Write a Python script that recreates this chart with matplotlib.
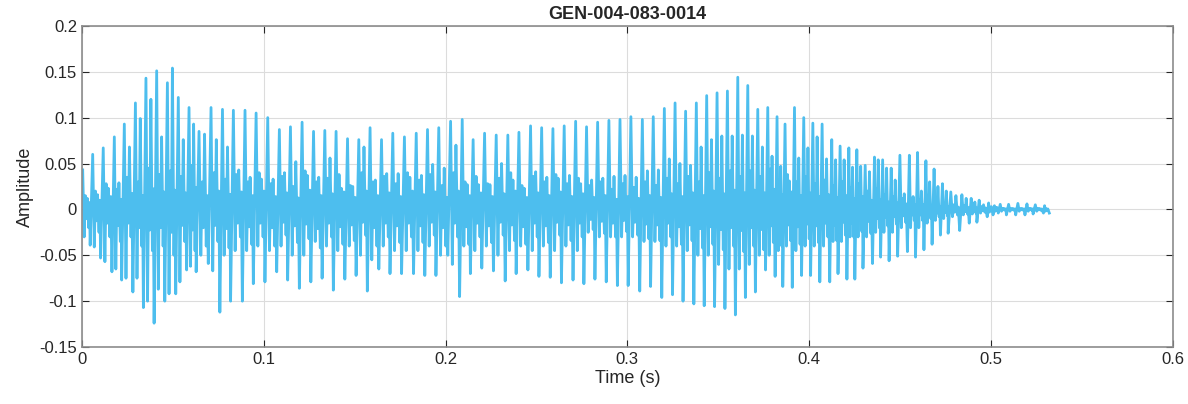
#!/usr/bin/env python3
"""
Plot the voice waveform of recording GEN-004-083-0014.
Values are per-cycle extrema read off the original figure.
"""

import matplotlib
matplotlib.use("Agg")
import matplotlib.pyplot as plt
import numpy as np

TITLE = "GEN-004-083-0014"
LINE_COLOR = "#4DBEEE"

# time (s) of the main positive peak of every glottal cycle
peak_t = [
    0.0004, 0.0059, 0.0117, 0.0178, 0.0233, 0.0294, 0.0352, 0.0411, 0.0470, 0.0530,
    0.0589, 0.0644, 0.0710, 0.0773, 0.0833, 0.0897,
    0.0958, 0.1022, 0.1086, 0.1147, 0.1211, 0.1274, 0.1336, 0.1398, 0.1461, 0.1523,
    0.1585, 0.1648, 0.1710, 0.1774,
    0.1839, 0.1901, 0.1963, 0.2028, 0.2092, 0.2152, 0.2215, 0.2279, 0.2343, 0.2404,
    0.2468, 0.2529, 0.2591, 0.2653, 0.2716,
    0.2776, 0.2837, 0.2899, 0.2960, 0.3020, 0.3083, 0.3143, 0.3204, 0.3263, 0.3321,
    0.3380, 0.3437, 0.3494, 0.3551, 0.3608,
    0.3663, 0.3718, 0.3773, 0.3824, 0.3868, 0.3920, 0.3971, 0.4021, 0.4072, 0.4125,
    0.4171, 0.4219, 0.4263, 0.4309, 0.4360, 0.4405, 0.4452, 0.4500, 0.4552,
    0.4597, 0.4643, 0.4688, 0.4734, 0.4780, 0.4841, 0.4892, 0.4936, 0.4988, 0.5020,
    0.5052, 0.5098, 0.5149, 0.5199, 0.5245, 0.5296,
]

# main positive peak of each cycle
peak_hi = [
    0.043, 0.060, 0.067, 0.079, 0.093, 0.116, 0.143, 0.151, 0.138, 0.122,
    0.111, 0.085, 0.111, 0.109, 0.108, 0.108,
    0.105, 0.100, 0.087, 0.090, 0.095, 0.085, 0.086, 0.085, 0.077, 0.076,
    0.089, 0.076, 0.083, 0.079,
    0.083, 0.087, 0.089, 0.096, 0.098, 0.076, 0.083, 0.081, 0.081, 0.084,
    0.091, 0.089, 0.088, 0.091, 0.096,
    0.090, 0.095, 0.097, 0.098, 0.101, 0.098, 0.101, 0.110, 0.116, 0.107,
    0.116, 0.124, 0.127, 0.129, 0.144,
    0.135, 0.109, 0.111, 0.101, 0.093, 0.111, 0.100, 0.094, 0.093, 0.076,
    0.069, 0.067, 0.065, 0.048, 0.057, 0.054, 0.045, 0.059, 0.059,
    0.062, 0.053, 0.044, 0.028, 0.019, 0.016, 0.012, 0.010, 0.007, 0.004,
    0.0055, 0.0055, 0.0065, 0.006, 0.005, 0.004,
]

# deep trough just before each main peak
trough_lo = [
    0.000, -0.039, -0.053, -0.068, -0.077, -0.090, -0.107, -0.124, -0.100, -0.092,
    -0.066, -0.068, -0.059, -0.112, -0.100, -0.100,
    -0.081, -0.079, -0.068, -0.077, -0.086, -0.079, -0.075, -0.088, -0.076, -0.072,
    -0.089, -0.065, -0.070, -0.070,
    -0.070, -0.072, -0.072, -0.050, -0.095, -0.070, -0.064, -0.067, -0.078, -0.070,
    -0.066, -0.073, -0.074, -0.080, -0.077,
    -0.081, -0.076, -0.079, -0.083, -0.083, -0.089, -0.084, -0.096, -0.093, -0.100,
    -0.103, -0.105, -0.106, -0.108, -0.115,
    -0.096, -0.090, -0.066, -0.073, -0.084, -0.085, -0.072, -0.072, -0.079, -0.079,
    -0.070, -0.076, -0.076, -0.064, -0.059, -0.052, -0.056, -0.051, -0.046,
    -0.052, -0.044, -0.038, -0.028, -0.026, -0.023, -0.015, -0.014, -0.008, -0.006,
    -0.004, -0.006, -0.006, -0.006, -0.005, -0.004,
]

# secondary dip and secondary peak inside each cycle
sec_lo = [
    -0.030, -0.041, -0.057, -0.065, -0.075, -0.075, -0.100, -0.087, -0.092, -0.079,
    -0.062, -0.050, -0.067, -0.050, -0.045, -0.045,
    -0.040, -0.045, -0.040, -0.050, -0.050, -0.035, -0.040, -0.045, -0.040, -0.050,
    -0.055, -0.040, -0.045, -0.045,
    -0.045, -0.040, -0.050, -0.060, -0.040, -0.045, -0.040, -0.050, -0.045, -0.040,
    -0.045, -0.040, -0.045, -0.040, -0.045,
    -0.025, -0.030, -0.030, -0.030, -0.030, -0.035, -0.035, -0.040, -0.040, -0.045,
    -0.050, -0.050, -0.060, -0.065, -0.065,
    -0.060, -0.050, -0.050, -0.045, -0.040, -0.045, -0.040, -0.040, -0.040, -0.035,
    -0.035, -0.030, -0.030, -0.030, -0.025, -0.025, -0.025, -0.020, -0.020,
    -0.020, -0.015, -0.012, -0.010, -0.008, -0.006, -0.005, -0.004, -0.003, -0.002,
    -0.002, -0.002, -0.002, -0.002, -0.002, -0.002,
]

sec_hi = [
    0.012, 0.016, 0.023, 0.029, 0.068, 0.099, 0.120, 0.079, 0.154, 0.076,
    0.093, 0.082, 0.076, 0.068, 0.043, 0.035,
    0.033, 0.033, 0.040, 0.052, 0.037, 0.035, 0.056, 0.023, 0.025, 0.068,
    0.032, 0.039, 0.039, 0.035,
    0.037, 0.049, 0.045, 0.070, 0.027, 0.027, 0.027, 0.050, 0.032, 0.023,
    0.041, 0.035, 0.034, 0.037, 0.028,
    0.032, 0.034, 0.036, 0.037, 0.035, 0.042, 0.043, 0.055, 0.050, 0.048,
    0.068, 0.076, 0.080, 0.080, 0.081,
    0.080, 0.068, 0.058, 0.047, 0.031, 0.056, 0.067, 0.079, 0.055, 0.054,
    0.054, 0.046, 0.047, 0.041, 0.054, 0.045, 0.032, 0.017, 0.014,
    0.020, 0.030, 0.025, 0.020, 0.015, 0.012, 0.008, 0.005, 0.003, 0.002,
    0.001, 0.001, 0.001, 0.001, 0.001, 0.000,
]

# extra high-frequency wiggle (up, down) inside each cycle
wig_hi = [
    0.015, 0.020, 0.028, 0.022, 0.035, 0.030, 0.045, 0.038, 0.042, 0.036,
    0.048, 0.030, 0.040, 0.033, 0.038, 0.030,
    0.040, 0.028, 0.036, 0.025, 0.042, 0.030, 0.034, 0.038, 0.026, 0.040,
    0.030, 0.036, 0.028, 0.040,
    0.032, 0.038, 0.026, 0.040, 0.030, 0.036, 0.028, 0.034, 0.040, 0.026,
    0.036, 0.030, 0.038, 0.028, 0.034,
    0.026, 0.030, 0.022, 0.028, 0.024, 0.030, 0.026, 0.034, 0.028, 0.036,
    0.030, 0.040, 0.034, 0.042, 0.036,
    0.042, 0.036, 0.044, 0.032, 0.038, 0.030, 0.036, 0.028, 0.032, 0.026,
    0.030, 0.024, 0.028, 0.020, 0.022, 0.016, 0.014, 0.012, 0.010,
    0.010, 0.008, 0.007, 0.006, 0.005, 0.004, 0.003, 0.003, 0.002, 0.002,
    0.001, 0.001, 0.001, 0.001, 0.001, 0.001,
]

wig_lo = [
    -0.020, -0.025, -0.030, -0.035, -0.030, -0.040, -0.045, -0.040, -0.050, -0.035,
    -0.045, -0.040, -0.035, -0.042, -0.030, -0.038,
    -0.030, -0.040, -0.028, -0.036, -0.032, -0.042, -0.030, -0.038, -0.034, -0.028,
    -0.040, -0.030, -0.036, -0.030,
    -0.036, -0.028, -0.040, -0.030, -0.038, -0.030, -0.036, -0.028, -0.034, -0.038,
    -0.030, -0.036, -0.028, -0.034, -0.030,
    -0.022, -0.026, -0.030, -0.024, -0.028, -0.032, -0.034, -0.030, -0.038, -0.034,
    -0.042, -0.038, -0.044, -0.040, -0.046,
    -0.040, -0.044, -0.036, -0.040, -0.034, -0.038, -0.032, -0.036, -0.030, -0.034,
    -0.028, -0.030, -0.024, -0.026, -0.020, -0.018, -0.016, -0.014, -0.012,
    -0.012, -0.010, -0.008, -0.007, -0.006, -0.005, -0.004, -0.003, -0.002, -0.002,
    -0.001, -0.001, -0.001, -0.001, -0.001, -0.001,
]

end_t, end_val = 0.5322, -0.004


def build_trace():
    """Chain the extrema of each cycle into one polyline."""
    t, y = [], []
    n = len(peak_t)
    for i in range(n):
        period = (peak_t[i + 1] if i + 1 < n else end_t) - peak_t[i]
        p = peak_t[i]
        steps = (
            (-0.24, trough_lo[i]), (0.0, peak_hi[i]),
            (0.15, sec_lo[i]), (0.26, wig_hi[i]),
            (0.36, 0.5 * wig_lo[i]), (0.46, sec_hi[i]),
            (0.60, wig_lo[i]), (0.68, 0.5 * wig_hi[i]),
        )
        for frac, v in steps:
            if p + frac * period >= 0:
                t.append(p + frac * period)
                y.append(v)
    t.append(end_t)
    y.append(end_val)
    return np.array(t), np.array(y)


def main():
    plt.rcParams["font.family"] = ["Liberation Sans", "DejaVu Sans"]
    plt.rcParams["axes.unicode_minus"] = False

    t, y = build_trace()

    fig = plt.figure(figsize=(11.88, 4.04), dpi=100)
    ax = fig.add_axes([0.069, 0.141, 0.918, 0.795])
    ax.plot(t, y, color=LINE_COLOR, linewidth=2.0)

    ax.set_xlim(0, 0.6)
    ax.set_ylim(-0.15, 0.2)
    ax.set_xticks(np.arange(0, 0.61, 0.1))
    ax.set_xticklabels(["0", "0.1", "0.2", "0.3", "0.4", "0.5", "0.6"])
    ax.set_yticks([-0.15, -0.1, -0.05, 0, 0.05, 0.1, 0.15, 0.2])
    ax.set_yticklabels(["-0.15", "-0.1", "-0.05", "0", "0.05", "0.1", "0.15", "0.2"])

    ax.grid(True, color="#dcdcdc", linewidth=0.8)
    ax.set_axisbelow(True)
    for s in ax.spines.values():
        s.set_color("#8c8c8c")
        s.set_linewidth(1.2)
    ax.tick_params(direction="in", length=5, width=0.8, colors="#262626",
                   labelsize=12, top=True, right=True)

    ax.set_xlabel("Time (s)", fontsize=13, color="#262626", labelpad=2)
    ax.set_ylabel("Amplitude", fontsize=13, color="#262626", labelpad=4)
    ax.set_title(TITLE, fontsize=13, fontweight="bold", color="#262626", pad=5)

    fig.savefig("out.png", dpi=100)


if __name__ == "__main__":
    main()
